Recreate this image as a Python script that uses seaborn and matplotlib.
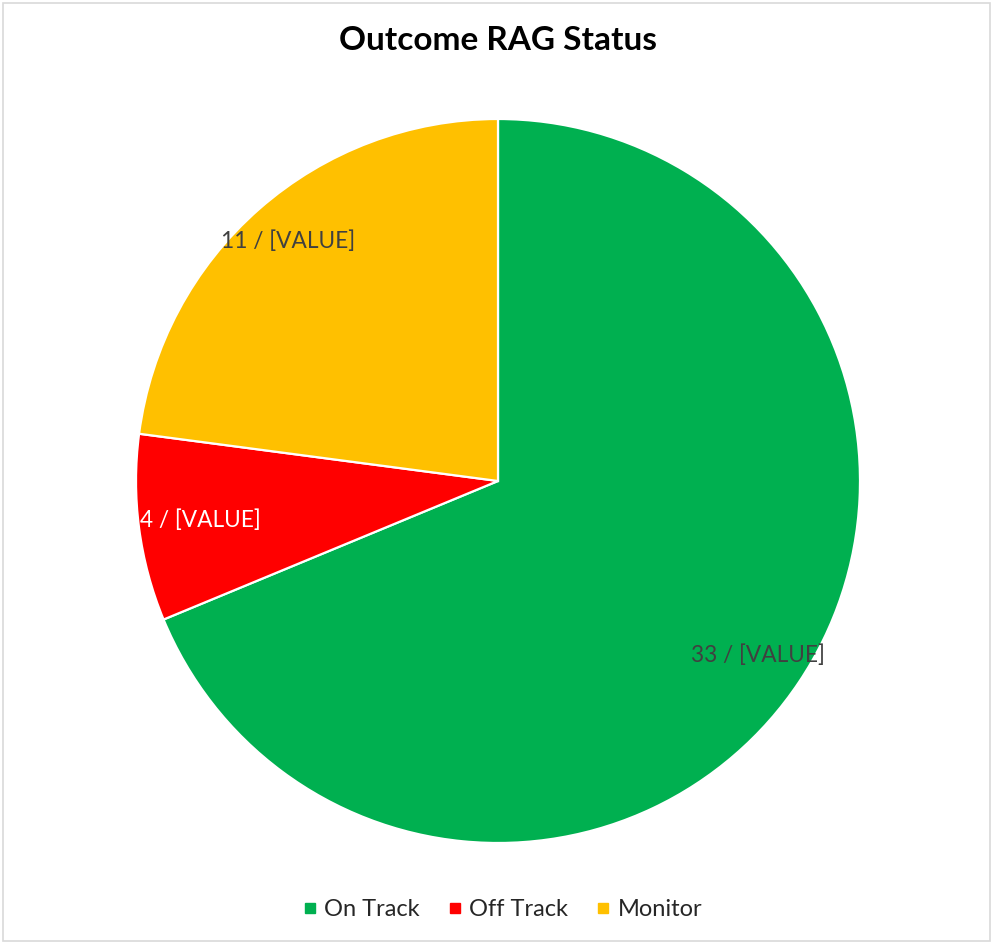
import matplotlib.pyplot as plt
import seaborn as sns
from matplotlib.lines import Line2D
from matplotlib.patches import Rectangle

# chart data
statuses = ['On Track', 'Off Track', 'Monitor']
counts = [33, 4, 11]
colours = ['#00B050', '#FF0000', '#FFC000']
label_colours = ['#404040', 'white', '#404040']
label_dist = [0.865, 0.83, 0.88]  # "best fit" distance of each data label

sns.set_theme(style='white')
plt.rcParams['font.family'] = ['Lato', 'DejaVu Sans']

fig = plt.figure(figsize=(9.93, 9.44), dpi=100)
ax = fig.add_axes([136 / 993, 101 / 944, 724 / 993, 724 / 944])

wedges, texts, autotexts = ax.pie(
    counts,
    colors=colours,
    startangle=90,
    counterclock=False,
    autopct=lambda p: f'{round(p * sum(counts) / 100)} / [VALUE]',
    pctdistance=1.0,
    wedgeprops={'edgecolor': 'white', 'linewidth': 1.6},
    textprops={'fontsize': 16.3},
)
for t, c, d in zip(autotexts, label_colours, label_dist):
    t.set_color(c)
    x, y = t.get_position()
    t.set_position((x * d, y * d))
ax.set_xlim(-1, 1)
ax.set_ylim(-1, 1)
ax.set_aspect('equal')

fig.text(498 / 993, 1 - 41 / 944, 'Outcome RAG Status', ha='center', va='center',
         fontsize=24, fontweight='bold', color='black')

handles = [Line2D([0], [0], marker='s', linestyle='', markersize=7,
                  markerfacecolor=c, markeredgecolor=c) for c in colours]
fig.legend(handles, statuses, loc='center', bbox_to_anchor=(500 / 993, 1 - 910 / 944),
           ncol=3, frameon=False, fontsize=17, handletextpad=0.1, columnspacing=1.0,
           handlelength=1.0)

fig.patches.append(Rectangle((0.003, 0.003), 0.994, 0.994, transform=fig.transFigure,
                             fill=False, edgecolor='#D9D9D9', linewidth=1.2))

fig.savefig('out.png', dpi=100)
